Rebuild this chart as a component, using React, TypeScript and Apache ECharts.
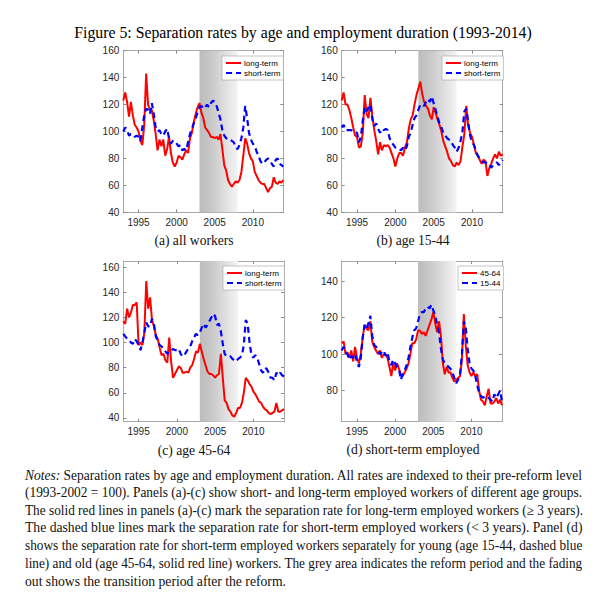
import React, { useEffect, useRef } from "react";
import * as echarts from "echarts";

// ---------- data (quarterly, 1993Q1 .. 2014Q1) ----------
const START_YEAR = 1993;
const X_TICKS = [1995, 2000, 2005, 2010];

const A_LONG = [
  123, 129, 122, 111, 122, 112, 105, 103, 100, 93, 90, 105, 143, 120, 116, 116,
  108, 98, 86, 94, 89, 94, 82, 87, 96, 84, 77, 74, 77, 82, 81, 79, 83, 86, 84, 95,
  99, 107, 113, 118, 121, 114, 110, 103, 101, 99, 96, 96, 95, 96, 94, 98, 87, 75, 71, 64,
  61, 59, 61, 63, 62, 64, 70, 82, 95, 91, 84, 80, 78, 70, 67, 64, 62, 61, 61, 58,
  55, 58, 59, 66, 62, 61, 63, 62, 64,
];
const A_SHORT = [
  100, 103, 101, 97, 98, 98, 96, 97, 96, 93, 103, 112, 117, 116, 113, 121,
  113, 103, 100, 101, 98, 97, 100, 102, 95, 91, 93, 93, 91, 89, 90, 86, 87, 86, 92, 98,
  102, 106, 110, 114, 118, 119, 117, 118, 120, 118, 121, 123, 122, 119, 114, 109, 101, 97, 95, 94,
  94, 93, 92, 88, 87, 90, 95, 103, 119, 110, 99, 94, 91, 89, 85, 82, 78, 76, 77, 79,
  80, 78, 76, 74, 79, 80, 76, 75, 74,
];
const B_LONG = [
  123, 129, 120, 120, 116, 110, 103, 97, 96, 88, 89, 99, 127, 113, 110, 125,
  111, 101, 93, 83, 92, 86, 90, 89, 90, 88, 84, 80, 74, 80, 84, 84, 82, 88, 92, 102,
  109, 112, 120, 127, 132, 137, 128, 122, 119, 117, 112, 109, 118, 114, 109, 105, 100, 93, 89, 85,
  80, 78, 75, 74, 77, 75, 78, 89, 98, 119, 104, 99, 96, 90, 84, 82, 79, 76, 79, 78,
  67, 73, 76, 80, 83, 80, 85, 82, 83,
];
const B_SHORT = [
  103, 105, 101, 101, 101, 101, 100, 100, 99, 92, 96, 108, 118, 115, 118, 120,
  109, 104, 106, 102, 99, 102, 101, 102, 101, 95, 92, 90, 88, 88, 87, 86, 88, 86, 89, 96,
  99, 105, 110, 112, 116, 120, 120, 119, 122, 124, 122, 126, 121, 116, 111, 106, 103, 99, 97, 95,
  94, 93, 90, 88, 85, 88, 93, 100, 115, 117, 107, 97, 92, 90, 86, 82, 80, 78, 77, 77,
  76, 76, 73, 75, 76, 77, 75, 77, 79,
];
const C_LONG = [
  117, 115, 127, 120, 124, 130, 130, 132, 98, 100, 98, 108, 149, 127, 136, 118,
  113, 106, 103, 96, 90, 91, 86, 84, 104, 85, 72, 75, 78, 81, 80, 76, 76, 77, 76, 80,
  82, 87, 93, 92, 99, 93, 87, 82, 77, 75, 75, 74, 72, 74, 75, 91, 72, 54, 52, 47,
  45, 42, 41, 44, 48, 48, 52, 60, 72, 70, 67, 65, 61, 59, 56, 53, 52, 49, 47, 46,
  44, 43, 44, 45, 52, 45, 45, 46, 47,
];
const C_SHORT = [
  107, 105, 103, 102, 100, 99, 103, 101, 98, 94, 100, 108, 116, 113, 113, 119,
  115, 105, 101, 98, 97, 95, 93, 91, 93, 93, 95, 94, 94, 95, 91, 89, 90, 93, 95, 97,
  101, 104, 107, 106, 108, 112, 115, 112, 114, 117, 120, 123, 121, 114, 115, 109, 99, 91, 89, 89,
  89, 87, 86, 85, 87, 88, 90, 98, 118, 115, 100, 90, 88, 90, 88, 83, 78, 76, 80, 79,
  76, 72, 72, 70, 76, 74, 76, 74, 73,
];
const D_OLD = [
  106, 107, 100, 101, 98, 102, 96, 104, 98, 95, 100, 109, 116, 114, 113, 118,
  107, 104, 102, 100, 102, 98, 100, 100, 98, 93, 88, 95, 91, 95, 92, 89, 88, 90, 92, 95,
  100, 106, 106, 108, 113, 113, 111, 112, 110, 113, 116, 119, 123, 117, 112, 118, 110, 95, 89, 93,
  90, 90, 87, 85, 86, 87, 88, 97, 122, 105, 94, 90, 88, 90, 88, 89, 80, 75, 74, 72,
  77, 81, 73, 73, 74, 76, 73, 75, 72,
];
const D_YOUNG = [
  102, 104, 101, 100, 97, 99, 98, 100, 96, 93, 98, 109, 116, 114, 117, 121,
  110, 105, 104, 102, 100, 101, 102, 99, 101, 96, 94, 97, 95, 93, 92, 86, 89, 91, 94, 98,
  104, 109, 113, 114, 118, 122, 123, 123, 125, 126, 125, 127, 124, 121, 116, 112, 103, 97, 95, 94,
  93, 92, 90, 87, 84, 86, 89, 100, 118, 115, 103, 95, 92, 91, 88, 83, 79, 77, 76, 77,
  76, 76, 75, 74, 78, 76, 78, 80, 74,
];

const TITLE = "Figure 5: Separation rates by age and employment duration (1993-2014)";
const NOTES_ITALIC = "Notes:";
const NOTES_LINES = [
  " Separation rates by age and employment duration. All rates are indexed to their pre-reform level",
  "(1993-2002 = 100). Panels (a)-(c) show short- and long-term employed workers of different age groups.",
  "The solid red lines in panels (a)-(c) mark the separation rate for long-term employed workers (\u2265 3 years).",
  "The dashed blue lines mark the separation rate for short-term employed workers (< 3 years). Panel (d)",
  "shows the separation rate for short-term employed workers separately for young (age 15-44, dashed blue",
  "line) and old (age 45-64, solid red line) workers. The grey area indicates the reform period and the fading",
  "out shows the transition period after the reform.",
];

// ---------- layout ----------
const PANELS = [
  {
    grid: { left: 123.3, top: 50.7, width: 160, height: 161.6 },
    ymin: 40, ymax: 160, yticks: [40, 60, 80, 100, 120, 140, 160],
    red: A_LONG, blue: A_SHORT, names: ["long-term", "short-term"],
    legend: { left: 222, top: 56 },
    caption: "(a) all workers", capX: 194, capY: 240,
  },
  {
    grid: { left: 341.7, top: 50.7, width: 161, height: 161.6 },
    ymin: 40, ymax: 160, yticks: [40, 60, 80, 100, 120, 140, 160],
    red: B_LONG, blue: B_SHORT, names: ["long-term", "short-term"],
    legend: { left: 442, top: 56 },
    caption: "(b) age 15-44", capX: 413, capY: 240,
  },
  {
    grid: { left: 123.3, top: 261, width: 160.7, height: 160.7 },
    ymin: 37, ymax: 165, yticks: [40, 60, 80, 100, 120, 140, 160],
    red: C_LONG, blue: C_SHORT, names: ["long-term", "short-term"],
    legend: { left: 223, top: 266 },
    caption: "(c) age 45-64", capX: 194, capY: 450,
  },
  {
    grid: { left: 341.7, top: 261, width: 160.3, height: 160.7 },
    ymin: 63, ymax: 151, yticks: [80, 100, 120, 140],
    red: D_OLD, blue: D_YOUNG, names: ["45-64", "15-44"],
    legend: { left: 458, top: 266 },
    caption: "(d) short-term employed", capX: 413, capY: 449,
  },
];

const SERIF = "Liberation Serif";
const SANS = "Liberation Sans";
const AXIS_COLOR = "#a8a8a8";
const TICK_COLOR = "#8a8a8a";
const LABEL_COLOR = "#262626";

function measure(text: string, size: number, family: string, style = "normal") {
  const c = document.createElement("canvas").getContext("2d")!;
  c.font = `${style} ${size}px "${family}"`;
  return c.measureText(text).width;
}

function toPoints(vals: number[]) {
  return vals.map((v, i) => [START_YEAR + i / 4, v]);
}

function buildOption() {
  const grid: any[] = [];
  const xAxis: any[] = [];
  const yAxis: any[] = [];
  const series: any[] = [];
  const legend: any[] = [];
  const graphic: any[] = [];

  PANELS.forEach((p, i) => {
    grid.push({ ...p.grid, containLabel: false });
    const axisLine = { show: true, onZero: false, lineStyle: { color: AXIS_COLOR, width: 1 } };
    const tick = (vals: number[]) => ({
      show: true, inside: true, length: 3, customValues: vals,
      lineStyle: { color: TICK_COLOR, width: 1 },
    });
    xAxis.push({
      type: "value", gridIndex: i, min: 1993, max: 2014, position: "bottom",
      axisLine, axisTick: tick(X_TICKS), splitLine: { show: false },
      axisLabel: {
        customValues: X_TICKS, fontSize: 10, fontFamily: SANS, color: LABEL_COLOR, margin: 5,
        formatter: (v: number) => String(v),
      },
    });
    xAxis.push({
      type: "value", gridIndex: i, min: 1993, max: 2014, position: "top",
      axisLine, axisTick: tick(X_TICKS), splitLine: { show: false }, axisLabel: { show: false },
    });
    yAxis.push({
      type: "value", gridIndex: i, min: p.ymin, max: p.ymax, position: "left",
      axisLine, axisTick: tick(p.yticks), splitLine: { show: false },
      axisLabel: {
        customValues: p.yticks, fontSize: 10, fontFamily: SANS, color: LABEL_COLOR, margin: 4,
        formatter: (v: number) => String(v),
      },
    });
    yAxis.push({
      type: "value", gridIndex: i, min: p.ymin, max: p.ymax, position: "right",
      axisLine, axisTick: tick(p.yticks), splitLine: { show: false }, axisLabel: { show: false },
    });

    // reform band (grey, fading out)
    series.push({
      type: "line", xAxisIndex: 2 * i, yAxisIndex: 2 * i, z: 1, silent: true,
      data: toPoints(p.red), symbol: "none", lineStyle: { opacity: 0 },
      markArea: {
        silent: true,
        itemStyle: {
          color: new echarts.graphic.LinearGradient(0, 0, 1, 0, [
            { offset: 0, color: "#bcbcbc" },
            { offset: 0.3, color: "#c8c8c8" },
            { offset: 1, color: "#f4f4f4" },
          ]),
        },
        data: [[{ xAxis: 2003 }, { xAxis: 2008 }]],
      },
    });
    series.push({
      name: p.names[0], type: "line", xAxisIndex: 2 * i, yAxisIndex: 2 * i, z: 3,
      data: toPoints(p.red), symbol: "none",
      lineStyle: { color: "#ff0000", width: 2 }, itemStyle: { color: "#ff0000" },
    });
    series.push({
      name: p.names[1], type: "line", xAxisIndex: 2 * i, yAxisIndex: 2 * i, z: 4,
      data: toPoints(p.blue), symbol: "none",
      lineStyle: { color: "#0000ff", width: 2.2, type: [6, 4] }, itemStyle: { color: "#0000ff" },
    });

    legend.push({
      data: p.names, left: p.legend.left, top: p.legend.top, orient: "vertical",
      itemWidth: 15, itemHeight: 8, itemGap: 2, padding: 3, selectedMode: false,
      backgroundColor: "#ffffff", borderColor: "#a0a0a0", borderWidth: 0.6, borderRadius: 0,
      itemStyle: { color: "rgba(0,0,0,0)", borderWidth: 0, opacity: 0 },
      textStyle: { fontSize: 8, fontFamily: SANS, color: "#000", padding: [0, 0, 0, -2] },
    });
  });

  // title
  const titleFs = (14 * 458) / measure(TITLE, 14, SERIF);
  graphic.push({
    type: "text", x: 303, y: 32,
    style: { text: TITLE, fontSize: titleFs, fontFamily: SERIF, fill: "#000", textAlign: "center", textVerticalAlign: "middle" },
  });

  // captions
  const capFs = (13 * 133) / measure("(d) short-term employed", 13, SERIF);
  PANELS.forEach((p) => {
    graphic.push({
      type: "text", x: p.capX, y: p.capY,
      style: { text: p.caption, fontSize: capFs, fontFamily: SERIF, fill: "#111", textAlign: "center", textVerticalAlign: "middle" },
    });
  });

  // notes (justified lines via horizontal scaling)
  const last = NOTES_LINES[NOTES_LINES.length - 1];
  const noteFs = (12 * 261) / measure(last, 12, SERIF);
  const left = 25;
  const target = 558;
  const lineY = [475, 492.7, 510, 527.5, 545.2, 563, 581];
  NOTES_LINES.forEach((line, k) => {
    const isFirst = k === 0;
    const italicW = isFirst ? measure(NOTES_ITALIC, noteFs, SERIF, "italic") : 0;
    const w = italicW + measure(line, noteFs, SERIF);
    const scale = k === NOTES_LINES.length - 1 ? 1 : target / w;
    const children: any[] = [];
    if (isFirst) {
      children.push({
        type: "text", x: 0, y: 0,
        style: { text: NOTES_ITALIC, fontSize: noteFs, fontFamily: SERIF, fontStyle: "italic", fill: "#111", textAlign: "left", textVerticalAlign: "middle" },
      });
    }
    children.push({
      type: "text", x: italicW, y: 0,
      style: { text: line, fontSize: noteFs, fontFamily: SERIF, fill: "#111", textAlign: "left", textVerticalAlign: "middle" },
    });
    graphic.push({ type: "group", x: left, y: lineY[k], scaleX: scale, children });
  });

  return {
    animation: false,
    backgroundColor: "#ffffff",
    grid, xAxis, yAxis, series, legend, graphic,
  };
}

export default function App() {
  const ref = useRef<HTMLDivElement>(null);
  useEffect(() => {
    const chart = echarts.init(ref.current!, null, { renderer: "svg" });
    chart.setOption(buildOption());
    return () => chart.dispose();
  }, []);
  return (
    <div
      ref={ref}
      style={{ position: "absolute", left: 0, top: 0, width: 605, height: 603, background: "#fff" }}
    />
  );
}
